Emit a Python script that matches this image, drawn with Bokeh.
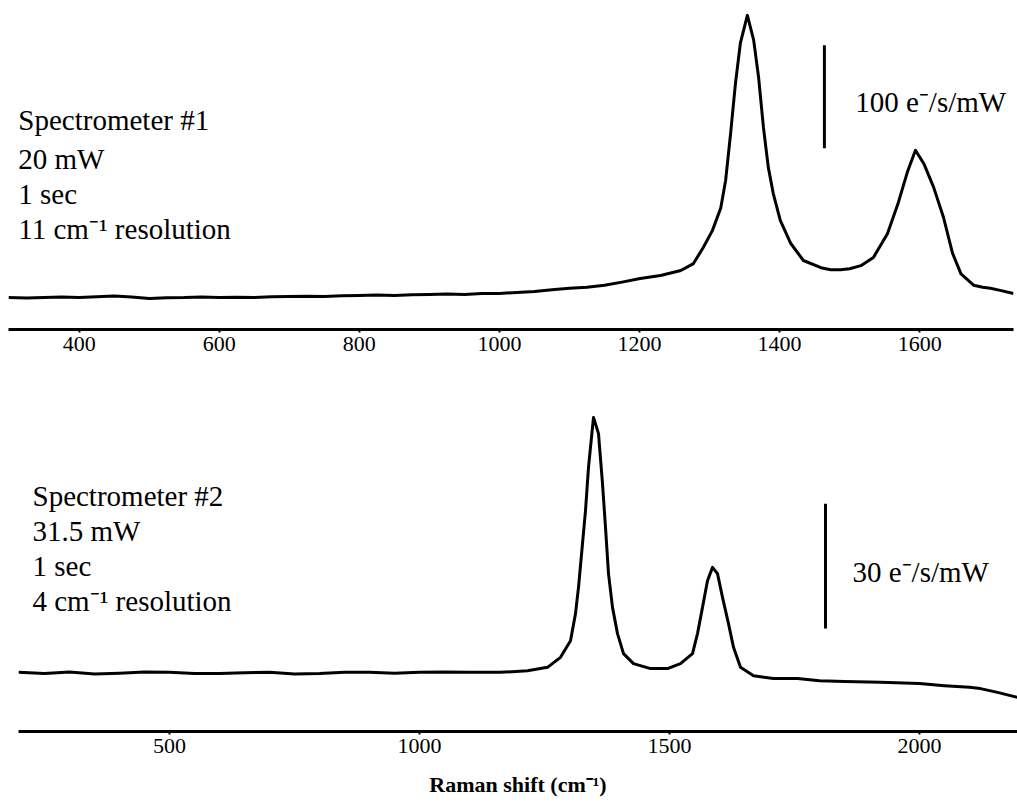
from bokeh.plotting import figure
from bokeh.layouts import column, row
from bokeh.models import ColumnDataSource, Range1d, FixedTicker
from bokeh.core.properties import value
from bokeh.embed import file_html
from bokeh.resources import INLINE

# ---------------- data ----------------
# Spectrometer #1 (intensity in e-/s/mW, arbitrary offset)
top_shift = [299, 325, 350, 375, 400, 425, 450, 475, 500, 525, 550, 575, 600, 625, 650, 675,
             700, 725, 750, 775, 800, 825, 850, 875, 900, 925, 950, 975, 1000, 1025, 1050,
             1075, 1100, 1125, 1150, 1175, 1201, 1230, 1259, 1277, 1291, 1304, 1316, 1323,
             1330, 1337, 1344, 1354, 1363, 1370, 1377, 1384, 1391, 1401, 1416, 1434, 1459,
             1473, 1487, 1500, 1516, 1534, 1554, 1569, 1583, 1594, 1606, 1620, 1634, 1647,
             1659, 1677, 1690, 1701, 1715, 1734]
top_intensity = [31, 30.5, 31, 31.5, 31, 31.8, 32.5, 31.5, 30, 30.8, 31, 31.6, 31, 31.4, 31, 31.8,
                 32, 32.4, 32, 32.8, 33, 33.4, 33, 33.8, 34, 34.5, 34, 35, 35, 36, 37,
                 38.5, 40, 41, 43, 46, 49.5, 52.4, 57.3, 64, 79.6, 96, 118, 145,
                 190, 239, 278, 305, 281, 245, 196, 157, 132, 106, 83.5, 67, 60,
                 58, 58, 59, 62, 70, 93, 122, 154, 174, 161, 138, 109, 74,
                 54, 43, 41, 40, 38, 35]

# Spectrometer #2
bottom_shift = [198, 250, 300, 350, 400, 450, 500, 550, 600, 650, 700, 750, 800, 850, 900, 950,
                1000, 1050, 1100, 1162, 1216, 1256, 1282, 1302, 1312, 1318, 1326, 1332, 1338,
                1348, 1358, 1366, 1372, 1378, 1386, 1396, 1408, 1428, 1462, 1496, 1522, 1546,
                1556, 1566, 1576, 1586, 1596, 1606, 1618, 1628, 1642, 1668, 1708, 1756, 1800,
                1850, 1922, 2000, 2050, 2100, 2122, 2156, 2196]
bottom_intensity = [14.2, 13.9, 14.3, 13.8, 14.0, 14.3, 14.2, 13.9, 13.9, 14.1, 14.2, 13.8, 13.9, 14.2, 14.2, 14.0,
                    14.2, 14.3, 14.2, 14.2, 14.6, 15.4, 17.8, 21.8, 28.3, 34.6, 45.1, 53, 63.4,
                    75.4, 71.5, 59.5, 49, 37.9, 29.8, 23.5, 18.7, 16.3, 15.1, 15.1, 16.3, 18.7,
                    23.5, 29.8, 36.2, 39.4, 37.9, 32.2, 25.9, 20.2, 15.4, 13.4, 12.7, 12.7, 12.2,
                    12.0, 11.8, 11.5, 11.0, 10.6, 10.3, 9.4, 8.2]

top_ticks = [400, 600, 800, 1000, 1200, 1400, 1600]
bottom_ticks = [500, 1000, 1500, 2000]

top_notes = ["Spectrometer #1", "20 mW", "1 sec", "11 cm\u207b\u00b9 resolution"]
bottom_notes = ["Spectrometer #2", "31.5 mW", "1 sec", "4 cm\u207b\u00b9 resolution"]
top_scale_label = "100 e\u207b/s/mW"
bottom_scale_label = "30 e\u207b/s/mW"
x_label = "Raman shift (cm\u207b\u00b9)"

# annotation anchors (data units)
top_note_x = 313
top_note_y = [203, 166, 132, 98]
bottom_note_x = 226
bottom_note_y = [56.6, 48.2, 39.8, 31.4]
top_bar = dict(x=1464, y0=176, y1=276, lx=1508, ly=221)
bottom_bar = dict(x=1812, y0=24.7, y1=54.7, lx=1866, ly=38.2)

FONT = "Liberation Serif"


def style_axis(p, ticks, tick_size):
    ax = p.xaxis[0]
    ax.ticker = FixedTicker(ticks=ticks, minor_ticks=[])
    ax.axis_line_width = 3
    ax.axis_line_color = "black"
    ax.major_tick_line_width = 2
    ax.major_tick_line_color = "black"
    ax.major_tick_out = 3
    ax.major_tick_in = 0
    ax.minor_tick_line_color = None
    ax.major_label_text_font = FONT
    ax.major_label_text_font_size = tick_size
    ax.major_label_text_color = "black"
    ax.major_label_standoff = 4


def make_panel(xs, ys, xr, yr, w, h, bl, br, bt, bb, ticks, notes, nx, ny, bar):
    p = figure(width=w, height=h, x_range=Range1d(*xr), y_range=Range1d(*yr),
               output_backend="svg", toolbar_location=None, y_axis_location=None,
               min_border_left=bl, min_border_right=br, min_border_top=bt,
               min_border_bottom=bb)
    p.outline_line_color = None
    p.xgrid.visible = False
    p.ygrid.visible = False
    p.background_fill_color = "white"
    p.border_fill_color = "white"
    p.line(xs, ys, line_color="black", line_width=3, line_join="round")
    style_axis(p, ticks, "22px")
    src = ColumnDataSource(dict(x=[nx] * len(notes), y=ny, t=notes))
    p.text(x="x", y="y", text="t", source=src, text_font=value(FONT),
           text_font_size="29px", text_baseline="middle", text_align="left",
           text_color="black")
    p.segment(x0=[bar["x"]], y0=[bar["y0"]], x1=[bar["x"]], y1=[bar["y1"]],
              line_color="black", line_width=3)
    return p


p1 = make_panel(top_shift, top_intensity, (299, 1734), (0, 311.7), 1017, 379, 8, 4, 8, 50,
                top_ticks, top_notes, top_note_x, top_note_y, top_bar)
p1.text(x=[top_bar["lx"]], y=[top_bar["ly"]], text=[top_scale_label], text_font=value(FONT),
        text_font_size="29px", text_baseline="middle", text_align="left", text_color="black")

p2 = make_panel(bottom_shift, bottom_intensity, (198, 2196), (0, 84.5), 1017, 423, 18, 0, 0, 71,
                bottom_ticks, bottom_notes, bottom_note_x, bottom_note_y, bottom_bar)
p2.text(x=[bottom_bar["lx"]], y=[bottom_bar["ly"]], text=[bottom_scale_label], text_font=value(FONT),
        text_font_size="29px", text_baseline="middle", text_align="left", text_color="black")
p2.xaxis.axis_label = x_label
p2.xaxis.axis_label_text_font = FONT
p2.xaxis.axis_label_text_font_style = "bold"
p2.xaxis.axis_label_text_font_size = "22px"
p2.xaxis.axis_label_text_color = "black"
p2.xaxis.axis_label_standoff = 16

layout = column(row(p1), row(p2), spacing=0)

open("out.html", "w").write(file_html(layout, INLINE))
